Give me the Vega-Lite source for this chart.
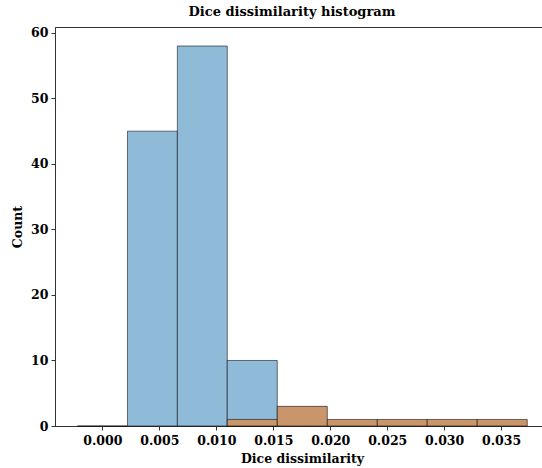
{
  "$schema": "https://vega.github.io/schema/vega-lite/v6.json",
  "autosize": "none",
  "padding": {"left": 55, "top": 27, "right": 0, "bottom": 42},
  "width": 494,
  "height": 399,
  "title": {"text": "Dice dissimilarity histogram", "font": "DejaVu Serif", "fontWeight": "bold", "fontSize": 13, "color": "#000", "offset": 8, "dx": -10},
  "config": {
    "view": {"stroke": "#333", "strokeWidth": 1},
    "axis": {"labelFont": "DejaVu Serif", "labelFontWeight": "bold", "labelFontSize": 12.5, "labelColor": "#000", "titleFont": "DejaVu Serif", "titleFontWeight": "bold", "titleFontSize": 12.5, "titleColor": "#000", "domainColor": "#333", "tickColor": "#333", "tickSize": 4, "grid": false}
  },
  "data": {"values": [
    {"series": "A", "start": -0.00219, "end": 0.00220, "count": 0},
    {"series": "A", "start": 0.00220, "end": 0.00658, "count": 45},
    {"series": "A", "start": 0.00658, "end": 0.01096, "count": 58},
    {"series": "A", "start": 0.01096, "end": 0.01535, "count": 10},
    {"series": "B", "start": 0.01096, "end": 0.01535, "count": 1},
    {"series": "B", "start": 0.01535, "end": 0.01974, "count": 3},
    {"series": "B", "start": 0.01974, "end": 0.02413, "count": 1},
    {"series": "B", "start": 0.02413, "end": 0.02851, "count": 1},
    {"series": "B", "start": 0.02851, "end": 0.03290, "count": 1},
    {"series": "B", "start": 0.03290, "end": 0.03729, "count": 1}
  ]},
  "mark": {"type": "rect", "stroke": "#000", "strokeOpacity": 0.55, "strokeWidth": 1},
  "encoding": {
    "x": {"field": "start", "type": "quantitative", "scale": {"domain": [-0.00416, 0.0392], "nice": false, "zero": false}, "axis": {"title": "Dice dissimilarity", "values": [0, 0.005, 0.01, 0.015, 0.02, 0.025, 0.03, 0.035], "format": ".3f", "labelPadding": 4, "titlePadding": 6}},
    "x2": {"field": "end"},
    "y": {"field": "count", "type": "quantitative", "scale": {"domain": [0, 60.9], "nice": false}, "axis": {"title": "Count", "values": [0, 10, 20, 30, 40, 50, 60], "labelPadding": 3, "titlePadding": 6}},
    "y2": {"datum": 0},
    "color": {"field": "series", "type": "nominal", "scale": {"domain": ["A", "B"], "range": ["#8fbbd9", "#c8966a"]}, "legend": null},
    "order": {"field": "series"}
  }
}
